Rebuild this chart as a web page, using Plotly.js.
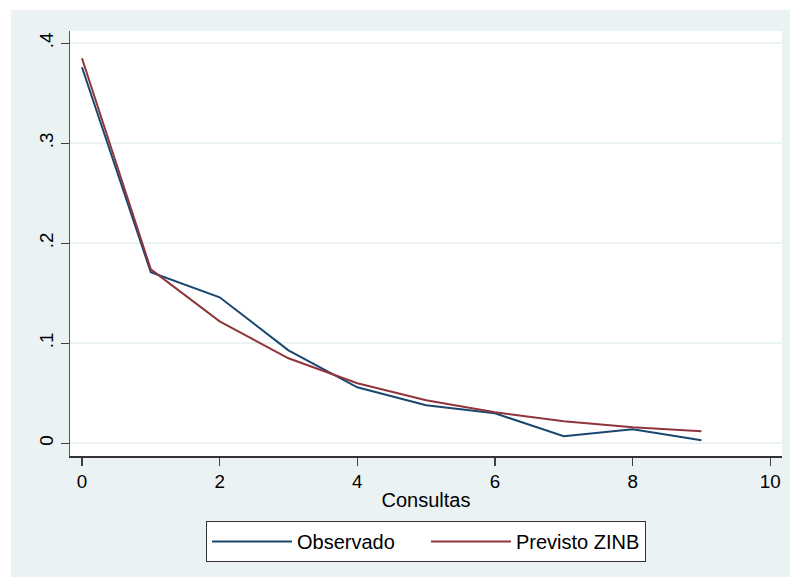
<!DOCTYPE html>
<html>
<head>
<meta charset="utf-8">
<script src="https://cdn.plot.ly/plotly-3.0.1.min.js"></script>
<style>
  html, body { margin: 0; padding: 0; background: #ffffff; }
  #chart { position: absolute; left: 11px; top: 10px; width: 779px; height: 567px; }
</style>
</head>
<body>
<div id="chart"></div>
<script>
// Number of consultations and the share of people at each count
const consultas = [0, 1, 2, 3, 4, 5, 6, 7, 8, 9];
const observado = [0.376, 0.171, 0.146, 0.093, 0.056, 0.038, 0.030, 0.007, 0.014, 0.003];
const previstoZINB = [0.385, 0.174, 0.122, 0.085, 0.060, 0.043, 0.031, 0.022, 0.016, 0.012];

const yTickVals = [0, 0.1, 0.2, 0.3, 0.4];
const yTickText = ['0', '.1', '.2', '.3', '.4'];
const xTickVals = [0, 2, 4, 6, 8, 10];

const navy = '#1a476f';
const maroon = '#90353b';
const region = '#eaf2f3';
const font = 'Arial, "Liberation Sans", sans-serif';

const traces = [
  { x: consultas, y: observado, name: 'Observado', type: 'scatter', mode: 'lines',
    line: { color: navy, width: 2 } },
  { x: consultas, y: previstoZINB, name: 'Previsto ZINB', type: 'scatter', mode: 'lines',
    line: { color: maroon, width: 2 } }
];

const layout = {
  width: 779, height: 567,
  margin: { l: 59, r: 8, t: 21, b: 121 },
  paper_bgcolor: region,
  plot_bgcolor: '#ffffff',
  font: { family: font, color: '#000000', size: 19 },
  showlegend: true,
  xaxis: {
    range: [-0.174, 10.17],
    tickvals: xTickVals,
    ticks: 'outside', ticklen: 8, tickwidth: 1.5, tickcolor: '#404040',
    showline: true, linecolor: '#333333', linewidth: 1.5,
    showgrid: false, zeroline: false,
    tickfont: { size: 18.8 },
    title: { text: 'Consultas', font: { size: 20 }, standoff: 2 }
  },
  yaxis: {
    range: [-0.0127, 0.4123],
    tickvals: yTickVals, ticktext: yTickText,
    tickangle: -90,
    ticks: 'outside', ticklen: 8, tickwidth: 1.5, tickcolor: '#404040',
    showline: true, linecolor: '#555555', linewidth: 1.5,
    showgrid: true, gridcolor: region, gridwidth: 2,
    zeroline: false,
    tickfont: { size: 18.8 }
  },
  legend: {
    orientation: 'h',
    x: 0.5, xanchor: 'center',
    y: -0.153, yanchor: 'top',
    bgcolor: '#ffffff', bordercolor: '#333333', borderwidth: 1,
    font: { size: 20 },
    itemwidth: 80,
    entrywidth: 124
  }
};

Plotly.newPlot('chart', traces, layout, { displayModeBar: false, staticPlot: true });
</script>
</body>
</html>
